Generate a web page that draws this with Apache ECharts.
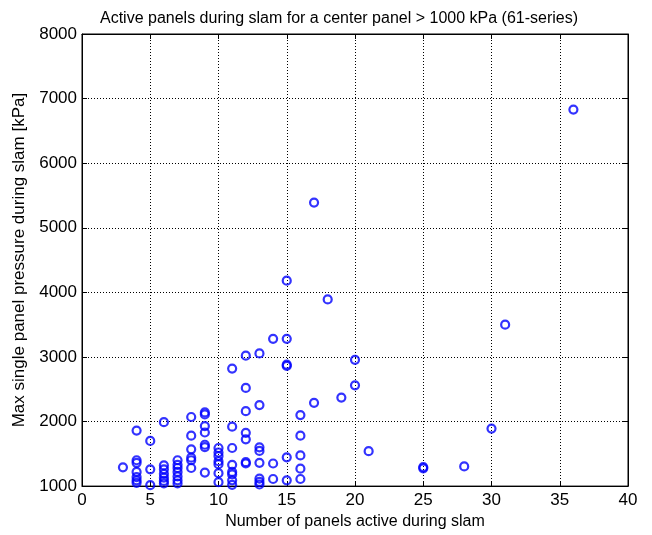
<!DOCTYPE html>
<html>
<head>
<meta charset="utf-8">
<script src="https://cdn.jsdelivr.net/npm/echarts@6/dist/echarts.min.js"></script>
<style>
  html, body { margin: 0; padding: 0; background: #fff; }
  #chart { width: 652px; height: 535px; }
</style>
</head>
<body>
<div id="chart"></div>
<script>
// Slam events: number of active panels and the max single-panel pressure (kPa)
const panelsActive = [
  3,
  4, 4, 4, 4, 4, 4, 4,
  5, 5, 5,
  6, 6, 6, 6, 6, 6, 6,
  7, 7, 7, 7, 7, 7, 7,
  8, 8, 8, 8, 8, 8,
  9, 9, 9, 9, 9, 9, 9,
  10, 10, 10, 10, 10, 10, 10,
  11, 11, 11, 11, 11, 11, 11, 11,
  12, 12, 12, 12, 12, 12, 12,
  13, 13, 13, 13, 13, 13, 13, 13,
  14, 14, 14,
  15, 15, 15, 15, 15, 15,
  16, 16, 16, 16, 16,
  17, 17,
  18,
  19,
  20, 20,
  21,
  25, 25,
  28,
  30,
  31,
  36
];
const maxPressure = [
  1290,
  1860, 1400, 1360, 1220, 1140, 1090, 1050,
  1700, 1260, 1015,
  1990, 1320, 1260, 1190, 1130, 1080, 1040,
  1400, 1330, 1280, 1220, 1150, 1090, 1040,
  2070, 1780, 1570, 1440, 1400, 1280,
  2140, 2110, 1930, 1830, 1640, 1605, 1210,
  1590, 1520, 1465, 1385, 1340, 1200, 1060,
  2820, 1920, 1590, 1330, 1220, 1180, 1090, 1020,
  3020, 2520, 2160, 1825, 1725, 1370, 1350,
  3055, 2255, 1600, 1545, 1360, 1115, 1065, 1025,
  3280, 1350, 1110,
  4180, 3280, 2880, 2860, 1445, 1090,
  2100, 1780, 1475, 1270, 1110,
  5390, 2290,
  3890,
  2370,
  2955, 2560,
  1540,
  1295, 1275,
  1305,
  1890,
  3500,
  6830
];
const xTicks = [0, 5, 10, 15, 20, 25, 30, 35, 40];
const yTicks = [1000, 2000, 3000, 4000, 5000, 6000, 7000, 8000];

const titleText = 'Active panels during slam for a center panel > 1000 kPa (61-series)';
const xLabel = 'Number of panels active during slam';
const yLabel = 'Max single panel pressure during slam [kPa]';

const points = panelsActive.map((x, i) => [x, maxPressure[i]]);

const FONT = 'Liberation Sans, Arial, Helvetica, sans-serif';
const gridDots = { color: '#000', width: 1, type: [1, 2] };

const chart = echarts.init(document.getElementById('chart'), null, { renderer: 'canvas' });

const baseX = {
  type: 'value',
  min: xTicks[0],
  max: xTicks[xTicks.length - 1],
  interval: 5,
  axisLine: { show: true, onZero: false, lineStyle: { color: '#000', width: 1 } },
  axisTick: { show: true, inside: true, length: 5, lineStyle: { color: '#000' } }
};
const baseY = {
  type: 'value',
  min: yTicks[0],
  max: yTicks[yTicks.length - 1],
  interval: 1000,
  axisLine: { show: true, onZero: false, lineStyle: { color: '#000', width: 1 } },
  axisTick: { show: true, inside: true, length: 5, lineStyle: { color: '#000' } }
};

chart.setOption({
  backgroundColor: '#fff',
  animation: false,
  title: {
    text: titleText,
    left: 334,
    textAlign: 'center',
    top: 6,
    textStyle: { fontFamily: FONT, fontSize: 16, fontWeight: 'normal', color: '#000' }
  },
  grid: {
    left: 82, top: 34, right: 24, bottom: 44,
    show: true, borderColor: '#000', borderWidth: 1, backgroundColor: '#fff'
  },
  xAxis: [
    Object.assign({}, baseX, {
      position: 'bottom',
      name: xLabel,
      nameLocation: 'middle',
      nameGap: 24,
      nameTextStyle: { fontFamily: FONT, fontSize: 16, color: '#000' },
      axisLabel: { show: true, margin: 6, fontFamily: FONT, fontSize: 17, color: '#000' },
      splitLine: { show: true, lineStyle: gridDots }
    }),
    Object.assign({}, baseX, {
      position: 'top',
      axisLabel: { show: false },
      splitLine: { show: false }
    })
  ],
  yAxis: [
    Object.assign({}, baseY, {
      position: 'left',
      name: yLabel,
      nameLocation: 'middle',
      nameGap: 50,
      nameTextStyle: { fontFamily: FONT, fontSize: 17, color: '#000' },
      axisLabel: { show: true, margin: 5, fontFamily: FONT, fontSize: 17, color: '#000',
                   formatter: (v) => String(v) },
      splitLine: { show: true, lineStyle: gridDots }
    }),
    Object.assign({}, baseY, {
      position: 'right',
      axisLabel: { show: false },
      splitLine: { show: false }
    })
  ],
  series: [{
    type: 'scatter',
    xAxisIndex: 0,
    yAxisIndex: 0,
    data: points,
    symbol: 'circle',
    symbolSize: 8,
    itemStyle: { color: 'rgba(0,0,0,0)', borderColor: '#0000ff', borderWidth: 2.2 },
    emphasis: { disabled: true }
  }]
});
</script>
</body>
</html>
